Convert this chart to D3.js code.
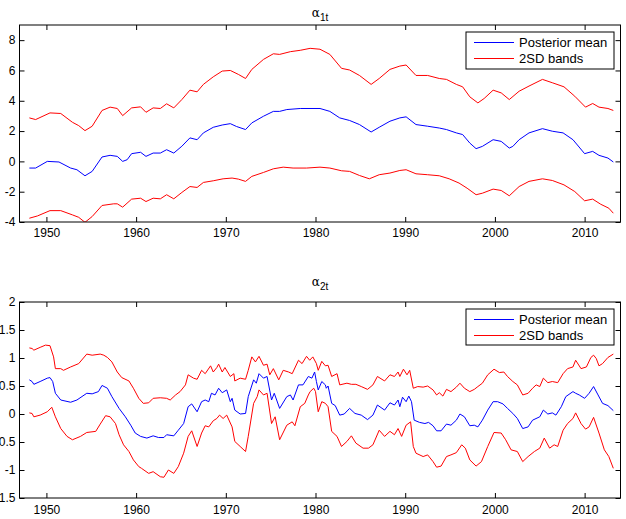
<!DOCTYPE html>
<html>
<head>
<meta charset="utf-8">
<script src="https://cdn.jsdelivr.net/npm/d3@7"></script>
<style>
  html, body { margin: 0; padding: 0; background: #fff; }
  svg { display: block; }
  text { font-family: "Liberation Sans", Arial, Helvetica, sans-serif; }
</style>
</head>
<body>
<svg id="chart" width="626" height="519"></svg>
<script>
// ---------------- DATA ----------------
const xTicks = [1950, 1960, 1970, 1980, 1990, 2000, 2010];
const yTicksTop = [-4, -2, 0, 2, 4, 6, 8];
const yTicksBottom = [-1.5, -1, -0.5, 0, 0.5, 1, 1.5, 2];
const legendLabels = ["Posterior mean", "2SD bands"];
const panelTitles = [["α", "1t"], ["α", "2t"]];

// alpha_1t : posterior mean [year, value]
const mean1 = [[1948.1,-0.44],[1948.8,-0.44],[1950.1,0.0],[1951.4,-0.04],[1952.7,-0.44],[1953.4,-0.55],[1954.3,-0.95],[1955.1,-0.66],[1956.2,0.29],[1957.1,0.40],[1957.9,0.33],[1958.5,0.0],[1959.0,0.11],[1959.5,0.51],[1960.5,0.60],[1961.1,0.33],[1961.9,0.55],[1962.7,0.55],[1963.4,0.77],[1964.2,0.55],[1965.1,1.0],[1966.0,1.55],[1966.8,1.43],[1967.5,1.88],[1968.6,2.25],[1969.6,2.40],[1970.5,2.49],[1971.2,2.30],[1972.2,2.10],[1972.9,2.54],[1974.2,2.98],[1975.3,3.30],[1976.0,3.30],[1976.8,3.42],[1978.3,3.49],[1980.5,3.49],[1981.6,3.30],[1982.7,2.87],[1983.8,2.70],[1984.9,2.43],[1986.2,1.94],[1987.1,2.25],[1988.3,2.65],[1989.4,2.87],[1990.1,2.94],[1991.2,2.43],[1992.5,2.32],[1993.8,2.20],[1994.6,2.10],[1995.7,1.88],[1996.4,1.77],[1997.2,1.21],[1997.9,0.84],[1998.6,0.99],[1999.8,1.43],[2000.7,1.32],[2001.6,0.88],[2002.0,0.99],[2002.7,1.43],[2003.8,1.88],[2005.3,2.16],[2006.4,1.99],[2007.6,1.88],[2008.7,1.43],[2010.0,0.51],[2010.9,0.66],[2011.6,0.40],[2012.6,0.22],[2013.2,-0.04]];
// alpha_1t : upper 2SD band
const upper1 = [[1948.1,2.87],[1948.8,2.76],[1950.4,3.20],[1951.6,3.16],[1952.9,2.58],[1953.6,2.36],[1954.3,2.03],[1955.1,2.32],[1956.2,3.36],[1957.1,3.58],[1957.9,3.49],[1958.5,3.02],[1959.5,3.53],[1960.5,3.60],[1961.1,3.24],[1961.9,3.53],[1962.7,3.49],[1963.4,3.80],[1964.2,3.53],[1965.1,4.08],[1966.0,4.70],[1966.8,4.59],[1967.5,5.08],[1968.6,5.58],[1969.6,5.96],[1970.5,6.00],[1971.4,5.74],[1972.2,5.47],[1972.9,6.07],[1974.2,6.73],[1975.3,7.10],[1976.0,7.06],[1977.2,7.24],[1978.3,7.33],[1979.4,7.46],[1980.5,7.40],[1981.6,7.06],[1982.9,6.14],[1983.8,6.03],[1984.9,5.67],[1986.2,5.08],[1987.1,5.47],[1988.3,6.07],[1989.4,6.29],[1990.1,6.36],[1991.2,5.67],[1992.5,5.67],[1993.8,5.47],[1994.6,5.41],[1995.7,5.08],[1996.4,4.92],[1997.2,4.26],[1998.1,3.86],[1998.8,4.15],[1999.8,4.70],[2000.7,4.52],[2001.6,4.08],[2002.7,4.63],[2003.8,4.97],[2005.3,5.41],[2006.4,5.19],[2007.7,4.92],[2008.9,4.30],[2010.1,3.58],[2010.9,3.82],[2011.6,3.58],[2012.6,3.49],[2013.2,3.36]];
// alpha_1t : lower 2SD band
const lower1 = [[1948.1,-3.75],[1949.0,-3.60],[1950.4,-3.25],[1951.6,-3.25],[1952.9,-3.53],[1953.6,-3.69],[1954.3,-4.02],[1955.1,-3.64],[1956.2,-2.91],[1957.5,-2.80],[1957.9,-2.80],[1958.5,-3.02],[1959.5,-2.49],[1960.5,-2.43],[1961.1,-2.65],[1961.9,-2.43],[1962.7,-2.47],[1963.4,-2.20],[1964.2,-2.47],[1965.1,-2.05],[1966.0,-1.66],[1966.8,-1.72],[1967.5,-1.39],[1968.6,-1.28],[1969.7,-1.15],[1970.7,-1.10],[1971.4,-1.17],[1972.2,-1.32],[1972.9,-0.99],[1974.2,-0.73],[1975.3,-0.49],[1976.4,-0.38],[1977.5,-0.44],[1979.0,-0.44],[1980.5,-0.38],[1981.6,-0.44],[1982.9,-0.62],[1983.8,-0.66],[1984.9,-0.93],[1986.0,-1.15],[1987.1,-0.88],[1988.3,-0.77],[1989.4,-0.60],[1990.1,-0.55],[1991.2,-0.82],[1992.5,-0.88],[1993.8,-0.95],[1994.9,-1.15],[1996.0,-1.43],[1996.9,-1.77],[1997.9,-2.20],[1998.6,-2.10],[1999.8,-1.83],[2000.7,-1.92],[2001.6,-2.27],[2002.7,-1.66],[2003.8,-1.32],[2005.3,-1.15],[2006.4,-1.26],[2007.7,-1.55],[2008.9,-1.99],[2010.0,-2.60],[2010.9,-2.49],[2011.8,-2.83],[2012.7,-3.09],[2013.2,-3.42]];

// alpha_2t : posterior mean
const mean2 = [[1948.1,0.61],[1948.4,0.58],[1948.6,0.53],[1949.3,0.58],[1950.1,0.64],[1950.4,0.65],[1950.7,0.58],[1951.0,0.37],[1951.6,0.25],[1952.7,0.21],[1953.4,0.25],[1954.5,0.37],[1955.1,0.36],[1955.8,0.40],[1956.2,0.51],[1956.8,0.46],[1957.3,0.31],[1958.1,0.10],[1958.8,-0.05],[1959.4,-0.20],[1959.9,-0.34],[1960.5,-0.40],[1961.2,-0.43],[1961.9,-0.39],[1962.5,-0.42],[1963.1,-0.42],[1963.4,-0.37],[1964.2,-0.39],[1964.7,-0.29],[1965.3,-0.17],[1965.8,0.13],[1966.2,0.18],[1966.8,0.04],[1967.3,0.22],[1967.7,0.25],[1968.1,0.22],[1968.4,0.37],[1968.8,0.34],[1969.2,0.46],[1969.6,0.38],[1970.1,0.43],[1970.5,0.22],[1970.7,0.28],[1971.0,0.07],[1971.6,0.0],[1972.2,0.01],[1972.5,0.31],[1973.1,0.61],[1973.4,0.55],[1973.7,0.72],[1974.2,0.64],[1974.6,0.67],[1975.1,0.25],[1975.4,0.37],[1976.0,0.10],[1976.8,0.31],[1977.2,0.34],[1977.5,0.25],[1978.1,0.52],[1978.6,0.52],[1979.2,0.67],[1979.6,0.64],[1979.9,0.75],[1980.1,0.58],[1980.3,0.43],[1980.7,0.58],[1981.1,0.52],[1981.2,0.46],[1981.4,0.50],[1981.8,0.19],[1982.2,0.15],[1982.7,-0.02],[1983.2,0.0],[1983.8,0.10],[1984.4,0.01],[1985.1,-0.02],[1985.8,-0.10],[1986.4,-0.02],[1986.9,0.16],[1987.7,0.07],[1988.3,0.20],[1988.8,0.16],[1989.2,0.25],[1989.4,0.13],[1989.7,0.30],[1990.1,0.22],[1990.4,0.32],[1990.7,0.22],[1991.0,-0.11],[1991.6,-0.15],[1992.2,-0.17],[1992.6,-0.15],[1993.1,-0.21],[1993.5,-0.30],[1994.0,-0.30],[1994.6,-0.18],[1995.1,-0.20],[1995.7,-0.11],[1996.1,0.0],[1996.6,-0.05],[1997.2,-0.21],[1997.7,-0.20],[1998.1,-0.23],[1998.6,-0.11],[1999.2,0.07],[1999.8,0.22],[2000.3,0.22],[2000.9,0.18],[2001.4,0.10],[2002.0,0.01],[2002.5,-0.08],[2003.1,-0.26],[2003.7,-0.23],[2004.2,-0.11],[2005.0,-0.05],[2005.4,0.07],[2005.9,0.0],[2006.4,0.02],[2006.8,-0.02],[2007.4,0.13],[2007.9,0.31],[2008.7,0.40],[2009.0,0.37],[2009.4,0.34],[2010.0,0.28],[2010.5,0.37],[2011.0,0.49],[2011.5,0.34],[2012.0,0.19],[2012.6,0.15],[2013.2,0.06]];
// alpha_2t : upper 2SD band
const upper2 = [[1948.1,1.18],[1948.4,1.17],[1948.6,1.14],[1949.3,1.19],[1949.9,1.23],[1950.4,1.22],[1950.8,1.02],[1951.0,0.81],[1951.6,0.81],[1951.9,0.78],[1952.7,0.84],[1953.6,0.90],[1954.5,1.07],[1955.1,1.05],[1956.0,1.07],[1956.4,1.05],[1956.8,1.01],[1957.3,0.93],[1957.9,0.75],[1958.4,0.65],[1959.2,0.59],[1959.7,0.46],[1960.3,0.28],[1960.8,0.19],[1961.4,0.20],[1961.9,0.28],[1962.7,0.29],[1963.4,0.28],[1963.8,0.25],[1964.4,0.34],[1964.9,0.40],[1965.5,0.52],[1965.8,0.70],[1966.4,0.64],[1966.8,0.62],[1967.3,0.78],[1967.7,0.72],[1968.3,0.86],[1968.6,0.75],[1969.0,0.83],[1969.2,0.89],[1969.6,0.75],[1969.9,0.83],[1970.5,0.67],[1970.9,0.72],[1971.0,0.59],[1971.6,0.64],[1972.2,0.62],[1972.5,0.78],[1972.9,1.02],[1973.3,0.93],[1973.7,1.03],[1974.2,0.87],[1974.6,0.89],[1974.9,0.70],[1975.3,0.81],[1975.9,0.61],[1976.4,0.78],[1977.0,0.75],[1977.4,0.72],[1978.1,0.96],[1978.5,0.90],[1979.0,1.03],[1979.35,0.96],[1979.7,1.02],[1980.1,0.90],[1980.3,0.78],[1980.7,0.94],[1981.1,0.86],[1981.4,0.87],[1981.8,0.67],[1982.4,0.72],[1982.7,0.52],[1983.5,0.55],[1984.0,0.53],[1984.5,0.53],[1985.1,0.49],[1985.8,0.44],[1986.4,0.52],[1986.9,0.67],[1987.7,0.59],[1988.3,0.70],[1988.8,0.67],[1989.2,0.75],[1989.4,0.67],[1989.8,0.80],[1990.2,0.70],[1990.5,0.78],[1990.9,0.46],[1991.4,0.49],[1992.0,0.48],[1992.5,0.50],[1993.1,0.43],[1993.5,0.34],[1993.8,0.38],[1994.2,0.32],[1994.6,0.44],[1995.1,0.40],[1995.7,0.48],[1996.1,0.55],[1996.6,0.46],[1997.2,0.40],[1997.7,0.44],[1998.1,0.49],[1998.6,0.55],[1999.2,0.70],[1999.9,0.80],[2000.5,0.74],[2001.0,0.75],[2001.4,0.67],[2002.0,0.58],[2002.5,0.52],[2003.1,0.34],[2003.7,0.37],[2004.2,0.46],[2004.6,0.52],[2005.0,0.49],[2005.4,0.64],[2005.9,0.56],[2006.4,0.58],[2007.0,0.56],[2007.6,0.72],[2008.1,0.81],[2008.7,0.84],[2009.0,0.96],[2009.6,0.81],[2010.2,0.84],[2010.7,1.01],[2011.0,1.05],[2011.3,0.99],[2011.6,0.86],[2012.0,0.90],[2012.6,1.01],[2013.2,1.07]];
// alpha_2t : lower 2SD band
const lower2 = [[1948.1,0.02],[1948.4,0.01],[1948.6,-0.05],[1949.3,-0.02],[1950.1,0.04],[1950.6,0.12],[1951.0,-0.05],[1951.6,-0.26],[1952.3,-0.40],[1952.9,-0.46],[1953.8,-0.40],[1954.5,-0.33],[1955.5,-0.31],[1956.0,-0.18],[1956.6,-0.03],[1957.1,-0.05],[1957.7,-0.17],[1958.1,-0.37],[1958.6,-0.55],[1959.2,-0.67],[1959.7,-0.82],[1960.3,-0.94],[1960.6,-0.97],[1961.4,-1.06],[1961.9,-1.03],[1962.7,-1.12],[1963.1,-1.13],[1963.6,-1.00],[1964.2,-1.06],[1964.7,-0.94],[1965.3,-0.70],[1965.8,-0.40],[1966.2,-0.30],[1966.8,-0.58],[1967.3,-0.34],[1967.7,-0.21],[1968.1,-0.23],[1968.6,-0.12],[1969.0,-0.08],[1969.3,-0.02],[1969.7,-0.08],[1970.1,-0.02],[1970.7,-0.23],[1971.0,-0.49],[1971.6,-0.58],[1972.2,-0.67],[1972.5,-0.40],[1973.1,0.19],[1973.5,0.31],[1973.7,0.43],[1974.2,0.34],[1974.6,0.37],[1975.1,-0.17],[1975.5,-0.05],[1976.0,-0.46],[1976.8,-0.20],[1977.4,-0.14],[1977.7,-0.21],[1978.3,0.13],[1978.8,0.19],[1979.2,0.34],[1979.4,0.40],[1979.8,0.46],[1980.0,0.40],[1980.3,0.04],[1980.7,0.22],[1981.1,0.19],[1981.4,0.13],[1981.8,-0.31],[1982.4,-0.40],[1982.9,-0.58],[1983.5,-0.49],[1984.0,-0.39],[1984.5,-0.52],[1985.3,-0.61],[1985.9,-0.61],[1986.4,-0.55],[1987.1,-0.29],[1987.7,-0.40],[1988.3,-0.31],[1988.8,-0.37],[1989.2,-0.26],[1989.6,-0.40],[1990.1,-0.20],[1990.6,-0.14],[1990.9,-0.58],[1991.2,-0.70],[1992.0,-0.76],[1992.5,-0.73],[1993.1,-0.85],[1993.5,-0.95],[1994.0,-0.93],[1994.6,-0.76],[1995.1,-0.73],[1995.7,-0.69],[1996.3,-0.55],[1996.7,-0.61],[1997.2,-0.82],[1997.9,-0.93],[1998.5,-0.85],[1999.2,-0.58],[1999.9,-0.33],[2000.7,-0.34],[2001.2,-0.46],[2001.8,-0.64],[2002.5,-0.67],[2003.1,-0.85],[2003.7,-0.76],[2004.4,-0.67],[2005.0,-0.61],[2005.5,-0.43],[2006.1,-0.61],[2006.6,-0.55],[2007.0,-0.58],[2007.6,-0.29],[2008.1,-0.17],[2008.7,-0.08],[2009.0,0.02],[2009.6,-0.17],[2010.1,-0.27],[2010.5,-0.23],[2011.0,-0.06],[2011.6,-0.34],[2012.2,-0.64],[2012.7,-0.76],[2013.2,-0.97]];

// ---------------- DRAW ----------------
const svg = d3.select("#chart");
const BLUE = "#0000ff", RED = "#ff0000";
const FONT = 12;

const x = d3.scaleLinear().domain([1947, 2014]).range([19.5, 620.5]);

const panels = [
  { y: d3.scaleLinear().domain([-4, 9]).range([222, 25]), ticks: yTicksTop,
    mean: mean1, upper: upper1, lower: lower1, title: panelTitles[0], titleY: 17, xPad: 6,
    legend: { x: 466, y: 32, w: 148, h: 37 } },
  { y: d3.scaleLinear().domain([-1.5, 2]).range([498, 302]), ticks: yTicksBottom,
    mean: mean2, upper: upper2, lower: lower2, title: panelTitles[1], titleY: 286, xPad: 7,
    legend: { x: 466, y: 309, w: 148, h: 36 } }
];

const fmt = d => String(d);

panels.forEach(p => {
  const g = svg.append("g");
  const [y0, y1] = p.y.range();
  const [x0, x1] = x.range();

  g.append("rect").attr("x", x0).attr("y", y1).attr("width", x1 - x0).attr("height", y0 - y1)
    .attr("fill", "#fff");

  const clipId = "clip" + y0;
  g.append("clipPath").attr("id", clipId).append("rect")
    .attr("x", x0).attr("y", y1).attr("width", x1 - x0).attr("height", y0 - y1);

  const line = d3.line().x(d => x(d[0])).y(d => p.y(d[1]));
  const lines = g.append("g").attr("clip-path", `url(#${clipId})`);
  [[p.mean, BLUE], [p.upper, RED], [p.lower, RED]].forEach(([data, c]) => {
    lines.append("path").datum(data).attr("d", line)
      .attr("fill", "none").attr("stroke", c).attr("stroke-width", 1)
      .attr("stroke-linejoin", "round");
  });

  // axes: ticks inside, on all four sides
  const tk = 5;
  const axB = d3.axisBottom(x).tickValues(xTicks).tickFormat(fmt).tickSizeInner(-tk).tickSizeOuter(0).tickPadding(p.xPad);
  const axT = d3.axisTop(x).tickValues(xTicks).tickFormat("").tickSizeInner(-tk).tickSizeOuter(0);
  const axL = d3.axisLeft(p.y).tickValues(p.ticks).tickFormat(fmt).tickSizeInner(-tk).tickSizeOuter(0).tickPadding(4);
  const axR = d3.axisRight(p.y).tickValues(p.ticks).tickFormat("").tickSizeInner(-tk).tickSizeOuter(0);

  const gb = g.append("g").attr("transform", `translate(0,${y0})`).call(axB);
  const gt = g.append("g").attr("transform", `translate(0,${y1})`).call(axT);
  const gl = g.append("g").attr("transform", `translate(${x0},0)`).call(axL);
  const gr = g.append("g").attr("transform", `translate(${x1},0)`).call(axR);
  [gb, gt, gl, gr].forEach(a => {
    a.select(".domain").remove();
    a.selectAll("line").attr("stroke", "#000").attr("stroke-width", 1);
    a.selectAll("text").attr("font-size", FONT).attr("fill", "#000")
      .attr("font-family", '"Liberation Sans", Arial, sans-serif');
  });
  gb.selectAll("text").attr("dy", "0.71em");

  // frame
  g.append("rect").attr("x", x0).attr("y", y1).attr("width", x1 - x0).attr("height", y0 - y1)
    .attr("fill", "none").attr("stroke", "#000").attr("stroke-width", 1);

  // title
  const t = g.append("text").attr("x", (x0 + x1) / 2).attr("y", p.titleY)
    .attr("text-anchor", "middle").attr("font-size", 13).attr("fill", "#000");
  t.append("tspan").text(p.title[0]).attr("font-family", '"DejaVu Serif", serif').attr("font-size", 12);
  t.append("tspan").text(p.title[1]).attr("dy", 4).attr("font-size", 10);

  // legend
  const L = p.legend;
  const lg = g.append("g");
  lg.append("rect").attr("x", L.x).attr("y", L.y).attr("width", L.w).attr("height", L.h)
    .attr("fill", "#fff").attr("stroke", "#000").attr("stroke-width", 1);
  const rowY = [L.y + 10.5, L.y + 26.5];
  legendLabels.forEach((lab, i) => {
    lg.append("line").attr("x1", L.x + 8).attr("x2", L.x + 48)
      .attr("y1", rowY[i]).attr("y2", rowY[i])
      .attr("stroke", i === 0 ? BLUE : RED).attr("stroke-width", 1);
    lg.append("text").attr("x", L.x + 53).attr("y", rowY[i]).attr("dy", "0.35em")
      .attr("font-size", 13).attr("fill", "#000").text(lab);
  });
});
</script>
</body>
</html>
